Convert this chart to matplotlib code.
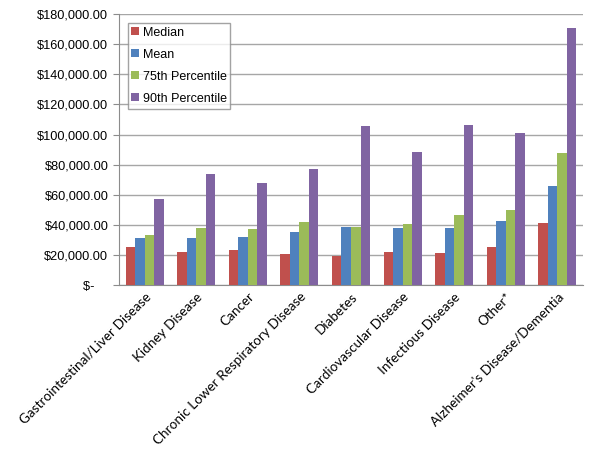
import numpy as np
import matplotlib
matplotlib.use('Agg')
import matplotlib.pyplot as plt
from matplotlib.ticker import FuncFormatter

# Data
categories = ['Gastrointestinal/Liver Disease', 'Kidney Disease', 'Cancer',
              'Chronic Lower Respiratory Disease', 'Diabetes', 'Cardiovascular Disease',
              'Infectious Disease', 'Other*', "Alzheimer's Disease/Dementia"]
median = [25400, 22100, 23300, 20400, 19500, 21900, 21100, 25000, 41200]
mean = [31000, 31000, 32100, 35400, 38500, 37900, 37700, 42700, 66000]
p75 = [33200, 37900, 37000, 41700, 38500, 40700, 46500, 49800, 87500]
p90 = [57100, 74000, 68000, 77100, 105700, 88400, 106500, 101000, 170600]

series = [('Median', median, '#C0504D'),
          ('Mean', mean, '#4F81BD'),
          ('75th Percentile', p75, '#9BBB59'),
          ('90th Percentile', p90, '#8064A2')]

fig = plt.figure(figsize=(6, 4.54), dpi=100)
ax = fig.add_axes([0.198, 0.372, 0.774, 0.597])

x = np.arange(len(categories))
w = 0.185
for i, (name, vals, col) in enumerate(series):
    ax.bar(x + (i - 1.5) * w, vals, width=w, color=col, label=name, zorder=3)

ax.set_xlim(-0.5, len(categories) - 0.5)
ax.set_ylim(0, 180000)
ax.set_yticks(np.arange(0, 180001, 20000))

def money(v, pos):
    return '$-    ' if v == 0 else '${:,.2f}'.format(v)

ax.yaxis.set_major_formatter(FuncFormatter(money))
ax.yaxis.grid(True, color='#a6a6a6', linewidth=1, zorder=0)
for s in ['top', 'right']:
    ax.spines[s].set_visible(False)
for s in ['left', 'bottom']:
    ax.spines[s].set_color('#8c8c8c')
ax.tick_params(axis='y', length=4, color='#8c8c8c', labelsize=9.2)
ax.tick_params(axis='x', length=0, pad=4)
for lbl in ax.get_yticklabels():
    lbl.set_family('Liberation Sans')

ax.set_xticks(x)
ax.set_xticklabels(categories, rotation=45, ha='right', rotation_mode='anchor',
                   family='Lato', fontsize=9.7)

leg = ax.legend(loc='upper left', bbox_to_anchor=(0.019, 0.967), frameon=True,
                fancybox=False, edgecolor='#8c8c8c', handlelength=0.6,
                handleheight=0.6, handletextpad=0.3, labelspacing=0.8,
                borderpad=0.3, borderaxespad=0,
                prop={'family': 'Liberation Sans', 'size': 9})
leg.get_frame().set_linewidth(1)

fig.savefig('out.png', dpi=100)
